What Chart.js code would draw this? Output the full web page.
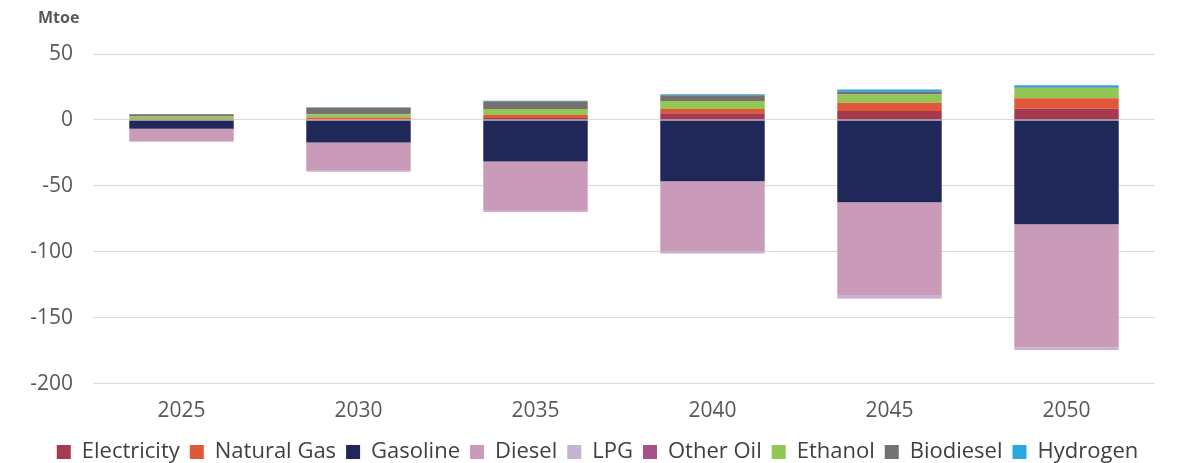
<!DOCTYPE html>
<html>
<head>
<meta charset="utf-8">
<script src="https://cdn.jsdelivr.net/npm/chart.js@4"></script>
<style>
  html, body { margin: 0; padding: 0; background: #fff; }
  #wrap { width: 1196px; height: 463px; }
</style>
</head>
<body>
<div id="wrap"><canvas id="chart1" width="1196" height="463"></canvas></div>
<script>
const years = ['2025', '2030', '2035', '2040', '2045', '2050'];
const yTicks = [50, 0, -50, -100, -150, -200];

const electricity = [0.3, 0.4, 1.5, 5.0, 6.7, 8.5];
const naturalGas  = [0.4, 1.4, 2.3, 3.3, 6.3, 8.0];
const gasoline    = [-6.6, -17, -31.5, -46.5, -62.4, -79];
const diesel      = [-9.5, -21.5, -36.8, -52.8, -70.8, -93.2];
const lpg         = [-0.4, -0.6, -0.8, -1.5, -1.9, -1.8];
const otherOil    = [-0.1, -0.1, -0.2, -0.2, -0.3, -0.3];
const ethanol     = [2.0, 2.5, 4.5, 6.0, 6.3, 7.8];
const biodiesel   = [1.6, 5.0, 5.8, 4.5, 2.0, 0.3];
const hydrogen    = [0.3, 0.3, 0.4, 0.7, 1.7, 1.7];

const font = "'Open Sans', sans-serif";
const grey = '#595959';

// "Mtoe" unit label top left
const unitLabel = {
  id: 'unitLabel',
  afterDraw(chart) {
    const ctx = chart.ctx;
    ctx.save();
    ctx.font = `bold 16px ${font}`;
    ctx.fillStyle = grey;
    ctx.textBaseline = 'middle';
    ctx.fillText('Mtoe', 38, 18);
    ctx.restore();
  }
};

const mk = (label, data, color) => ({ label, data, backgroundColor: color, borderWidth: 0 });

new Chart(document.getElementById('chart1').getContext('2d'), {
  type: 'bar',
  data: {
    labels: years,
    datasets: [
      mk('Electricity', electricity, '#A63A50'),
      mk('Natural Gas', naturalGas, '#E0583A'),
      mk('Gasoline', gasoline, '#1F2859'),
      mk('Diesel', diesel, '#CA9BB9'),
      mk('LPG', lpg, '#C6B2D2'),
      mk('Other Oil', otherOil, '#A15489'),
      mk('Ethanol', ethanol, '#92C755'),
      mk('Biodiesel', biodiesel, '#767171'),
      mk('Hydrogen', hydrogen, '#2AA8E0')
    ]
  },
  options: {
    responsive: false,
    animation: false,
    layout: { padding: { left: 4, right: 5, top: 54, bottom: -10 } },
    datasets: { bar: { barPercentage: 0.59, categoryPercentage: 1 } },
    plugins: {
      legend: {
        position: 'bottom',
        labels: { font: { family: font, size: 22 }, color: '#404040', boxWidth: 14, boxHeight: 14, padding: 10 }
      },
      tooltip: { enabled: false }
    },
    scales: {
      x: {
        stacked: true,
        grid: { display: false },
        border: { display: false },
        ticks: { font: { family: font, size: 21 }, color: grey, padding: 7 }
      },
      y: {
        stacked: true,
        min: -200, max: 50,
        afterBuildTicks: (s) => { s.ticks = yTicks.map(v => ({ value: v })); },
        afterFit: (s) => { s.width = 89; },
        grid: { color: '#D9D9D9', drawTicks: false },
        border: { display: false },
        ticks: { font: { family: font, size: 21 }, color: grey, padding: 20 }
      },
      yRight: {
        position: 'right',
        grid: { display: false },
        border: { display: false },
        ticks: { display: false },
        afterFit: (s) => { s.width = 36; }
      }
    }
  },
  plugins: [unitLabel]
});
</script>
</body>
</html>
